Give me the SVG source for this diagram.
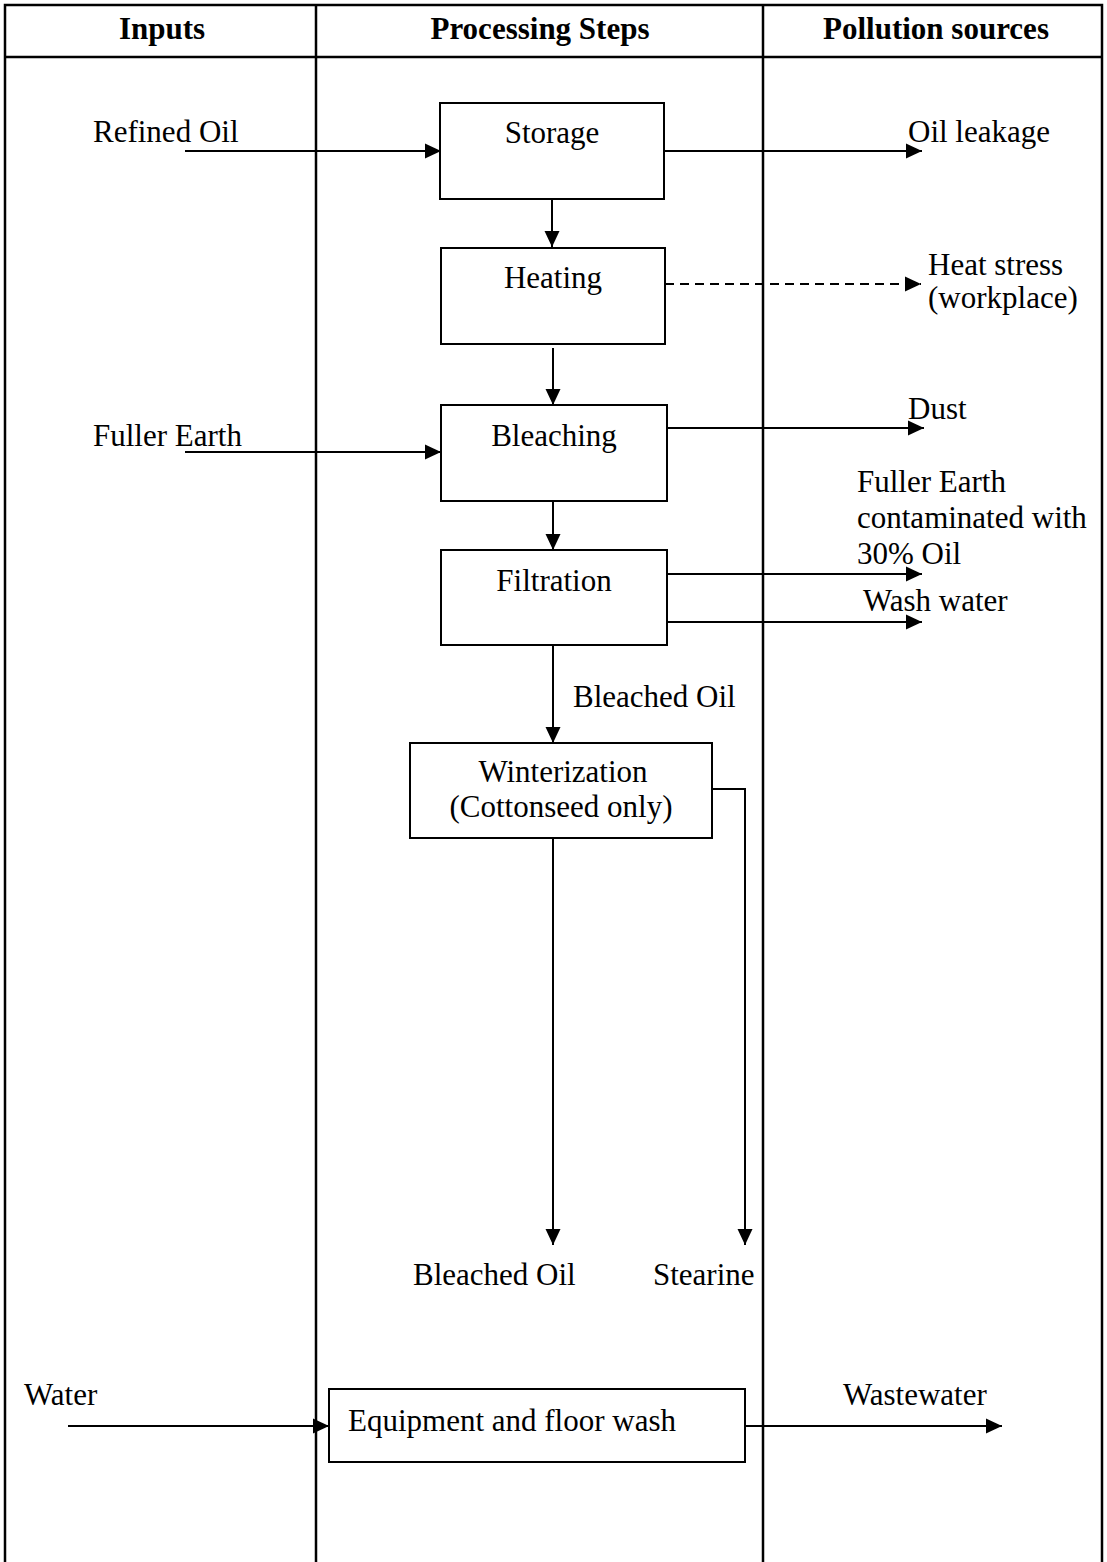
<svg xmlns="http://www.w3.org/2000/svg" width="1107" height="1562" viewBox="0 0 1107 1562">
  <style>
    text { font-family: "Liberation Serif", "Times New Roman", serif; font-size: 31px; fill: #000; }
    .hdr { font-weight: bold; text-anchor: middle; }
    .mid { text-anchor: middle; }
    .frame { fill: none; stroke: #000; stroke-width: 2.5; }
    .box { fill: none; stroke: #000; stroke-width: 2; }
    .flow { fill: none; stroke: #000; stroke-width: 2; marker-end: url(#arrow); }
    .dash { stroke-dasharray: 9 6; }
  </style>
  <defs>
    <marker id="arrow" viewBox="0 0 16 16" refX="16" refY="8" markerWidth="16" markerHeight="16" markerUnits="userSpaceOnUse" orient="auto">
      <path d="M0,0.5 L16,8 L0,15.5 z" fill="#000"/>
    </marker>
  </defs>

  <!-- table frame and column headings -->
  <g id="table">
    <polyline class="frame" points="5,1562 5,5 1102,5 1102,1562"/>
    <line class="frame" x1="5" y1="57" x2="1102" y2="57"/>
    <line class="frame" x1="316" y1="5" x2="316" y2="1562"/>
    <line class="frame" x1="763" y1="5" x2="763" y2="1562"/>
    <text class="hdr" x="162" y="39">Inputs</text>
    <text class="hdr" x="540" y="39">Processing Steps</text>
    <text class="hdr" x="936" y="39">Pollution sources</text>
  </g>

  <!-- process steps -->
  <g id="storage">
    <rect class="box" x="440" y="103" width="224" height="96"/>
    <text class="mid" x="552" y="143">Storage</text>
  </g>
  <g id="heating">
    <rect class="box" x="441" y="248" width="224" height="96"/>
    <text class="mid" x="553" y="288">Heating</text>
  </g>
  <g id="bleaching">
    <rect class="box" x="441" y="405" width="226" height="96"/>
    <text class="mid" x="554" y="446">Bleaching</text>
  </g>
  <g id="filtration">
    <rect class="box" x="441" y="550" width="226" height="95"/>
    <text class="mid" x="554" y="591">Filtration</text>
  </g>
  <g id="winterization">
    <rect class="box" x="410" y="743" width="302" height="95"/>
    <text class="mid" x="563" y="782">Winterization</text>
    <text class="mid" x="561" y="817">(Cottonseed only)</text>
  </g>
  <g id="wash">
    <rect class="box" x="329" y="1389" width="416" height="73"/>
    <text x="348" y="1431">Equipment and floor wash</text>
  </g>

  <!-- inputs -->
  <g id="in-refined-oil"><text x="93" y="142">Refined Oil</text></g>
  <g id="in-fuller-earth"><text x="93" y="446">Fuller Earth</text></g>
  <g id="in-water"><text x="24" y="1405">Water</text></g>

  <!-- outputs and pollution sources -->
  <g id="out-oil-leakage"><text x="908" y="142">Oil leakage</text></g>
  <g id="out-heat-stress">
    <text x="928" y="275">Heat stress</text>
    <text x="928" y="308">(workplace)</text>
  </g>
  <g id="out-dust"><text x="908" y="419">Dust</text></g>
  <g id="out-spent-earth">
    <text x="857" y="492">Fuller Earth</text>
    <text x="857" y="528">contaminated with</text>
    <text x="857" y="564">30% Oil</text>
  </g>
  <g id="out-wash-water"><text x="863" y="611">Wash water</text></g>
  <g id="out-bleached-oil"><text x="413" y="1285">Bleached Oil</text></g>
  <g id="out-stearine"><text x="653" y="1285">Stearine</text></g>
  <g id="out-wastewater"><text x="843" y="1405">Wastewater</text></g>

  <!-- connectors -->
  <g id="connectors">
    <line class="flow" x1="185" y1="151" x2="441" y2="151"/>
    <line class="flow" x1="664" y1="151" x2="922" y2="151"/>
    <line class="flow" x1="552" y1="199" x2="552" y2="247"/>
    <line class="flow dash" x1="665" y1="284" x2="921" y2="284"/>
    <line class="flow" x1="553" y1="348" x2="553" y2="405"/>
    <line class="flow" x1="185" y1="452" x2="441" y2="452"/>
    <line class="flow" x1="667" y1="428" x2="924" y2="428"/>
    <line class="flow" x1="553" y1="501" x2="553" y2="550"/>
    <line class="flow" x1="667" y1="574" x2="922" y2="574"/>
    <line class="flow" x1="667" y1="622" x2="922" y2="622"/>
    <line class="flow" x1="553" y1="645" x2="553" y2="743"/>
    <text x="573" y="707">Bleached Oil</text>
    <line class="flow" x1="553" y1="838" x2="553" y2="1245"/>
    <polyline class="flow" points="712,789 745,789 745,1245"/>
    <line class="flow" x1="68" y1="1426" x2="329" y2="1426"/>
    <line class="flow" x1="745" y1="1426" x2="1002" y2="1426"/>
  </g>
</svg>
